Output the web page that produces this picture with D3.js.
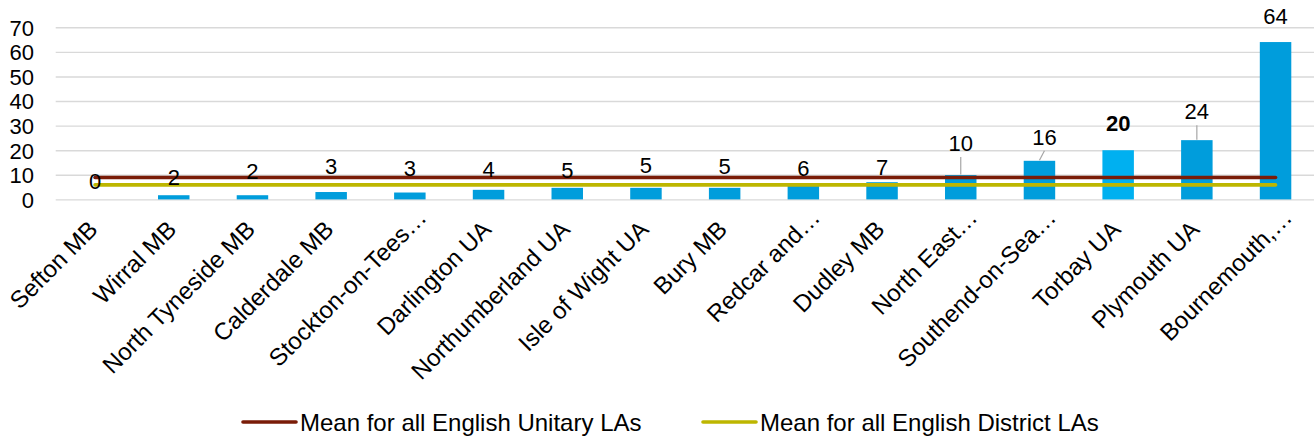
<!DOCTYPE html>
<html>
<head>
<meta charset="utf-8">
<script src="https://cdn.jsdelivr.net/npm/d3@7"></script>
<style>
  html, body { margin: 0; padding: 0; background: #fff; }
  svg { display: block; font-family: "Liberation Sans", Arial, Helvetica, sans-serif; }
</style>
</head>
<body>
<svg id="chart" width="1314" height="439"></svg>
<script>
// Local authorities, ordered by value
const categories = [
  "Sefton MB", "Wirral MB", "North Tyneside MB", "Calderdale MB",
  "Stockton-on-Tees…", "Darlington UA", "Northumberland UA", "Isle of Wight UA",
  "Bury MB", "Redcar and…", "Dudley MB", "North East…",
  "Southend-on-Sea…", "Torbay UA", "Plymouth UA", "Bournemouth,…"
];
const values = [0, 1.7, 1.7, 3.0, 2.8, 3.9, 4.7, 4.7, 4.7, 5.5, 7.0, 9.9, 15.7, 20.0, 24.1, 64.0];
const highlighted = "Torbay UA";

// Reference means, drawn as horizontal lines across the categories
const unitaryMean = 8.9;
const districtMean = 5.9;
const meanSeries = [
  { name: "Mean for all English Unitary LAs", value: unitaryMean, color: "#7A1C08" },
  { name: "Mean for all English District LAs", value: districtMean, color: "#BDB600" }
];

const yTicks = [0, 10, 20, 30, 40, 50, 60, 70];

// Hand placement of the value labels (pixels above the bar top, horizontal nudge)
const labelLift = [18, 18, 24, 26, 24, 21, 18, 23, 22, 18, 15, 32, 24, 27, 29, 26];
const labelNudgeX = [0, 0, 0, 0, 0, 0, 0, 0, 0, 0, 0, 0, 5, 0, 0, 0];
const withLeader = ["North East…", "Southend-on-Sea…", "Plymouth UA"];

const svg = d3.select("#chart");
const plotLeft = 55.7, plotRight = 1314.9, plotTop = 27.3, plotBottom = 199.4;

const x = d3.scaleBand()
  .domain(categories)
  .range([plotLeft, plotRight])
  .paddingInner(0.6)
  .paddingOuter(0.3);

const y = d3.scaleLinear().domain([0, 70]).range([plotBottom, plotTop]);
const cx = c => x(c) + x.bandwidth() / 2;

// Gridlines and value axis
const yAxis = d3.axisLeft(y)
  .tickValues(yTicks)
  .tickSize(-(plotRight - plotLeft))
  .tickFormat(d3.format("d"));

const gy = svg.append("g")
  .attr("transform", `translate(${plotLeft},0)`)
  .call(yAxis);
gy.select(".domain").remove();
gy.selectAll(".tick line").attr("stroke", "#D9D9D9").attr("stroke-width", 1.4);
gy.selectAll(".tick text")
  .attr("fill", "#000")
  .attr("font-size", 22)
  .attr("dy", "0.36em")
  .attr("x", 34 - plotLeft);

// Bars
svg.append("g")
  .selectAll("rect")
  .data(categories)
  .join("rect")
  .attr("x", d => x(d))
  .attr("width", x.bandwidth())
  .attr("y", (d, i) => y(values[i]))
  .attr("height", (d, i) => y(0) - y(values[i]))
  .attr("fill", d => d === highlighted ? "#00B0F0" : "#009DDC");

// Mean lines
const line = d3.line()
  .x(d => cx(d.cat))
  .y(d => y(d.v));

svg.append("g")
  .selectAll("path")
  .data(meanSeries)
  .join("path")
  .attr("d", s => line(categories.map(c => ({ cat: c, v: s.value }))))
  .attr("fill", "none")
  .attr("stroke", s => s.color)
  .attr("stroke-width", 3.6)
  .attr("stroke-linecap", "round");

// Leader lines from moved labels back to their bars
svg.append("g")
  .selectAll("line")
  .data(categories.map((c, i) => ({ c, i })).filter(d => withLeader.includes(d.c)))
  .join("line")
  .attr("x1", d => cx(d.c) + labelNudgeX[d.i])
  .attr("y1", d => y(values[d.i]) - labelLift[d.i] + 14)
  .attr("x2", d => cx(d.c))
  .attr("y2", d => y(values[d.i]) - 0.5)
  .attr("stroke", "#A6A6A6")
  .attr("stroke-width", 1.2);

// Value labels
svg.append("g")
  .selectAll("text")
  .data(categories)
  .join("text")
  .attr("x", (d, i) => cx(d) + labelNudgeX[i])
  .attr("y", (d, i) => y(values[i]) - labelLift[i])
  .attr("dy", "0.36em")
  .attr("text-anchor", "middle")
  .attr("font-size", 22)
  .attr("font-weight", d => d === highlighted ? "bold" : "normal")
  .attr("fill", "#000")
  .text((d, i) => d3.format(".0f")(values[i]));

// Category labels, slanted; clipped names sit further along the slant
svg.append("g")
  .selectAll("text")
  .data(categories)
  .join("text")
  .attr("transform", d => {
    const clipped = d.endsWith("…");
    const px = cx(d) + (clipped ? 18 : 4);
    const py = clipped ? 219 : 231;
    return `translate(${px},${py}) rotate(-45)`;
  })
  .attr("text-anchor", "end")
  .attr("font-size", 24)
  .attr("fill", "#000")
  .text(d => d);

// Legend
const legendItems = [
  { s: meanSeries[0], x: 243 },
  { s: meanSeries[1], x: 703 }
];
const lg = svg.append("g").selectAll("g").data(legendItems).join("g")
  .attr("transform", d => `translate(${d.x},422)`);
lg.append("line")
  .attr("x1", 0).attr("x2", 53)
  .attr("stroke", d => d.s.color)
  .attr("stroke-width", 3.6)
  .attr("stroke-linecap", "round");
lg.append("text")
  .attr("x", 57)
  .attr("dy", "0.36em")
  .attr("font-size", 24)
  .attr("fill", "#000")
  .text(d => d.s.name);
</script>
</body>
</html>
